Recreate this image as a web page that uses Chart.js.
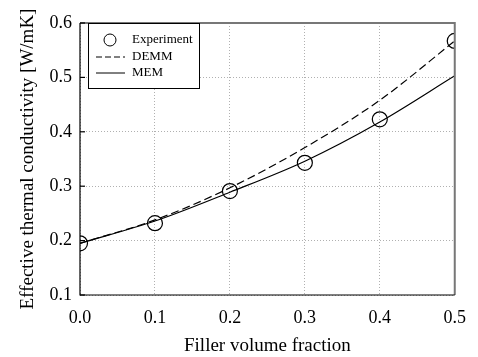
<!DOCTYPE html>
<html>
<head>
<meta charset="utf-8">
<script src="https://cdn.jsdelivr.net/npm/chart.js@4/dist/chart.umd.min.js"></script>
<style>
 html,body{margin:0;padding:0;background:#fff;}
 #wrap{width:478px;height:357px;}
</style>
</head>
<body>
<div id="wrap"><canvas id="chart" width="478" height="357"></canvas></div>
<script>
// values
const fraction = [0.0, 0.1, 0.2, 0.3, 0.4, 0.5];
const experiment = [0.195, 0.232, 0.291, 0.343, 0.423, 0.567];
const demm = [0.195, 0.238, 0.297, 0.371, 0.458, 0.567];
const mem = [0.195, 0.236, 0.289, 0.346, 0.418, 0.503];
const legendLabels = ['Experiment', 'DEMM', 'MEM'];

const pts = (xs, ys) => xs.map((x, i) => ({x, y: ys[i]}));
const serif = 'Liberation Serif, Times New Roman, serif';

// frame, inward ticks and legend box
const frame = {
 id: 'frame',
 afterDraw(c){
  const {ctx, chartArea: a, scales: {y}} = c;
  ctx.save();
  ctx.strokeStyle = '#777'; ctx.lineWidth = 2;
  ctx.beginPath(); ctx.moveTo(a.left, a.top); ctx.lineTo(a.right, a.top); ctx.lineTo(a.right, a.bottom); ctx.stroke();
  ctx.strokeStyle = '#000'; ctx.lineWidth = 1.2;
  ctx.beginPath(); ctx.moveTo(a.left, a.top); ctx.lineTo(a.left, a.bottom); ctx.lineTo(a.right, a.bottom); ctx.stroke();
  y.ticks.forEach(t => { const py = y.getPixelForValue(t.value); ctx.beginPath(); ctx.moveTo(a.left, py); ctx.lineTo(a.left + 5, py); ctx.stroke(); });
  // legend
  const lx = a.left + 8, ly = a.top, lw = 111, lh = 65;
  ctx.fillStyle = '#fff'; ctx.fillRect(lx, ly, lw, lh);
  ctx.lineWidth = 1; ctx.strokeRect(lx + 0.5, ly + 0.5, lw, lh);
  ctx.font = '13px ' + serif; ctx.fillStyle = '#000'; ctx.textBaseline = 'middle';
  const rows = [ly + 17, ly + 34, ly + 50];
  ctx.beginPath(); ctx.arc(lx + 22, rows[0], 6, 0, Math.PI * 2); ctx.stroke();
  ctx.setLineDash([6, 3]); ctx.beginPath(); ctx.moveTo(lx + 8, rows[1]); ctx.lineTo(lx + 37, rows[1]); ctx.stroke();
  ctx.setLineDash([]); ctx.beginPath(); ctx.moveTo(lx + 8, rows[2]); ctx.lineTo(lx + 37, rows[2]); ctx.stroke();
  legendLabels.forEach((l, i) => ctx.fillText(l, lx + 44, rows[i]));
  ctx.restore();
 }
};

const gridOpts = {color: '#b0b0b0', lineWidth: 1, drawTicks: false};

new Chart(document.getElementById('chart'), {
 type: 'scatter',
 data: {
  datasets: [
   {label: legendLabels[1], data: pts(fraction, demm), showLine: true, borderColor: '#000', borderWidth: 1.2, borderDash: [8, 4], pointRadius: 0, cubicInterpolationMode: 'monotone'},
   {label: legendLabels[2], data: pts(fraction, mem), showLine: true, borderColor: '#000', borderWidth: 1.2, pointRadius: 0, cubicInterpolationMode: 'monotone'},
   {label: legendLabels[0], data: pts(fraction, experiment), showLine: false, borderColor: '#000', borderWidth: 1.2, backgroundColor: 'rgba(0,0,0,0)', pointRadius: 7.5}
  ]
 },
 options: {
  responsive: false, animation: false,
  layout: {padding: {left: 17, top: 23, right: 19, bottom: 0}},
  plugins: {legend: {display: false}, tooltip: {enabled: false}},
  scales: {
   x: {
    type: 'linear', min: 0, max: 0.5,
    border: {display: false, dash: [1, 2]},
    grid: gridOpts,
    ticks: {stepSize: 0.1, padding: 12, color: '#000', font: {family: serif, size: 18}, callback: v => v.toFixed(1)},
    title: {display: true, text: 'Filler volume fraction', color: '#000', font: {family: serif, size: 19}, padding: 0},
    afterFit: s => { s.height = 62; }
   },
   y: {
    min: 0.1, max: 0.6,
    border: {display: false, dash: [1, 2]},
    grid: gridOpts,
    ticks: {stepSize: 0.1, padding: 8, color: '#000', font: {family: serif, size: 18}, callback: v => v.toFixed(1)},
    title: {display: true, text: 'Effective thermal conductivity [W/mK]', color: '#000', font: {family: serif, size: 19}, padding: 0},
    afterFit: s => { s.width = 63; }
   }
  }
 },
 plugins: [frame]
});
</script>
</body>
</html>
